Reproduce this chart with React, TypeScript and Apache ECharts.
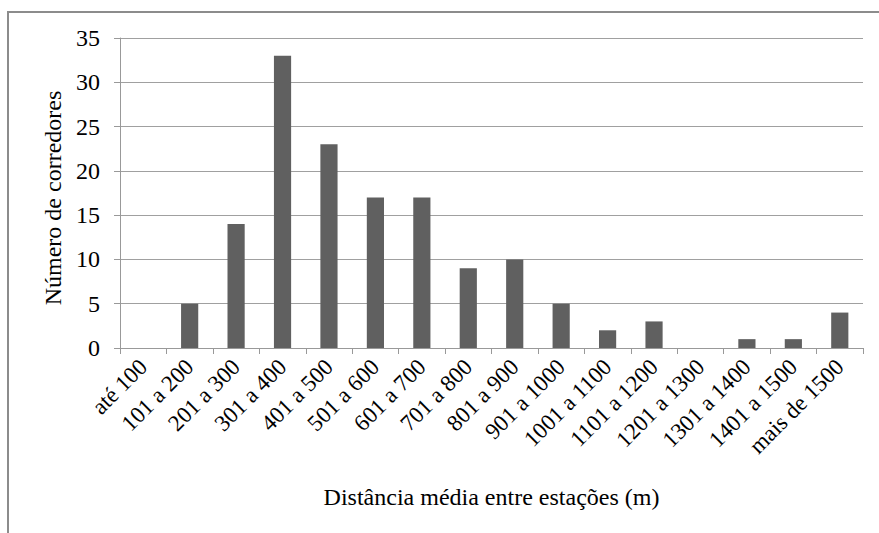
import React, { useEffect, useRef } from "react";
import * as echarts from "echarts";

const categories = [
  "até 100", "101 a 200", "201 a 300", "301 a 400", "401 a 500", "501 a 600",
  "601 a 700", "701 a 800", "801 a 900", "901 a 1000", "1001 a 1100",
  "1101 a 1200", "1201 a 1300", "1301 a 1400", "1401 a 1500", "mais de 1500",
];
const values = [0, 5, 14, 33, 23, 17, 17, 9, 10, 5, 2, 3, 0, 1, 1, 4];
const yTicks = { min: 0, max: 35, interval: 5 };
const xTitle = "Distância média entre estações (m)";
const yTitle = "Número de corredores";

const FONT = "Liberation Serif";

export default function App() {
  const ref = useRef<HTMLDivElement>(null);
  useEffect(() => {
    if (!ref.current) return;
    const chart = echarts.init(ref.current, undefined, { renderer: "svg" });
    chart.setOption({
      animation: false,
      backgroundColor: "#ffffff",
      textStyle: { fontFamily: FONT },
      grid: { left: 120, right: 16, top: 38, bottom: 185, containLabel: false },
      graphic: [
        {
          type: "rect",
          shape: { x: 8, y: 12, width: 900, height: 560 },
          style: { fill: "none", stroke: "#8c8c8c", lineWidth: 2 },
          silent: true,
        },
      ],
      xAxis: {
        type: "category",
        data: categories,
        boundaryGap: true,
        name: xTitle,
        nameLocation: "middle",
        nameGap: 137,
        nameTextStyle: { fontFamily: FONT, fontSize: 24, color: "#000" },
        axisLine: { show: true, lineStyle: { color: "#999999", width: 1 } },
        axisTick: { show: true, length: 6, alignWithLabel: false, lineStyle: { color: "#999999" } },
        axisLabel: {
          interval: 0,
          rotate: 45,
          fontFamily: FONT,
          fontSize: 23,
          color: "#000",
          margin: 15,
        },
      },
      yAxis: {
        type: "value",
        min: yTicks.min,
        max: yTicks.max,
        interval: yTicks.interval,
        name: yTitle,
        nameLocation: "middle",
        nameGap: 51,
        nameRotate: 90,
        nameTextStyle: { fontFamily: FONT, fontSize: 24, color: "#000", padding: [0, 10, 0, 0] },
        axisLine: { show: true, lineStyle: { color: "#999999", width: 1 } },
        axisTick: { show: true, length: 6, lineStyle: { color: "#999999" } },
        axisLabel: { fontFamily: FONT, fontSize: 24, color: "#000", margin: 20 },
        splitLine: { show: true, lineStyle: { color: "#a0a0a0", width: 1 } },
      },
      series: [
        {
          type: "bar",
          data: values,
          barWidth: "37%",
          itemStyle: { color: "#606060" },
        },
      ],
    });
    return () => chart.dispose();
  }, []);
  return <div ref={ref} style={{ width: 879, height: 533, position: "absolute", left: 0, top: 0 }} />;
}
